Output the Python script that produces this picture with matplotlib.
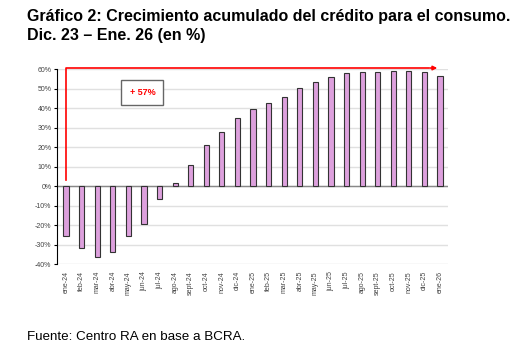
import matplotlib.pyplot as plt

plt.rcParams['font.family'] = ['Liberation Sans', 'DejaVu Sans']

meses = ["ene-24", "feb-24", "mar-24", "abr-24", "may-24", "jun-24", "jul-24", "ago-24",
         "sept-24", "oct-24", "nov-24", "dic-24", "ene-25", "feb-25", "mar-25", "abr-25",
         "may-25", "jun-25", "jul-25", "ago-25", "sept-25", "oct-25", "nov-25", "dic-25", "ene-26"]
crecimiento = [-25.6, -31.9, -36.3, -33.9, -25.7, -19.4, -6.5, 1.5, 10.9, 21.3, 27.6, 35.1,
               39.9, 42.9, 45.8, 50.3, 53.5, 56.0, 57.9, 58.8, 58.8, 59.1, 59.3, 58.8, 56.7]
etiqueta = "+ 57%"

fig = plt.figure(figsize=(5.3, 3.54), dpi=100)
ax = fig.add_axes([0.1075, 0.254, 0.7375, 0.55])

x = range(len(meses))
ax.bar(x, crecimiento, width=0.33, color="#DDA0DD", edgecolor="#333333", linewidth=0.8, zorder=3)

ax.set_ylim(-40, 60)
ax.set_xlim(-0.58, len(meses) - 0.5)
ax.set_yticks(range(-40, 61, 10))
ax.set_yticklabels([f"{v}%" for v in range(-40, 61, 10)], fontsize=5, color="#444444")
ax.set_xticks(list(x))
ax.set_xticklabels(meses, rotation=90, fontsize=5, color="#444444")
ax.tick_params(axis="x", length=0, pad=5)
ax.tick_params(axis="y", length=2, width=0.8, pad=2)

ax.grid(axis="y", color="#e0e0e0", linewidth=1, zorder=0)
ax.axhline(0, color="#888888", linewidth=1, zorder=2)
for s in ["top", "right", "bottom"]:
    ax.spines[s].set_visible(False)
ax.spines["left"].set_color("black")
ax.spines["left"].set_linewidth(0.8)

# flecha roja de crecimiento
ax.plot([0, 0, 23.3], [3, 60.7, 60.7], color="red", linewidth=1.2, clip_on=False, zorder=4)
ax.annotate("", xy=(24.0, 60.7), xytext=(23.2, 60.7),
            arrowprops=dict(arrowstyle="-|>", color="red", lw=1.2, mutation_scale=6),
            annotation_clip=False)

ax.text(4.9, 48.3, etiqueta, color="red", fontsize=6.5, fontweight="bold", ha="center", va="center",
        bbox=dict(boxstyle="square,pad=0.9", facecolor="white", edgecolor="#666666", linewidth=1),
        zorder=5)

fig.text(0.051, 0.952, "Gráfico 2: Crecimiento acumulado del crédito para el consumo.",
         fontsize=11.5, fontweight="bold", va="center")
fig.text(0.051, 0.901, "Dic. 23 – Ene. 26 (en %)", fontsize=11.5, fontweight="bold", va="center")
fig.text(0.051, 0.048, "Fuente: Centro RA en base a BCRA.", fontsize=9.6, va="center")

fig.savefig("out.png", dpi=100)
